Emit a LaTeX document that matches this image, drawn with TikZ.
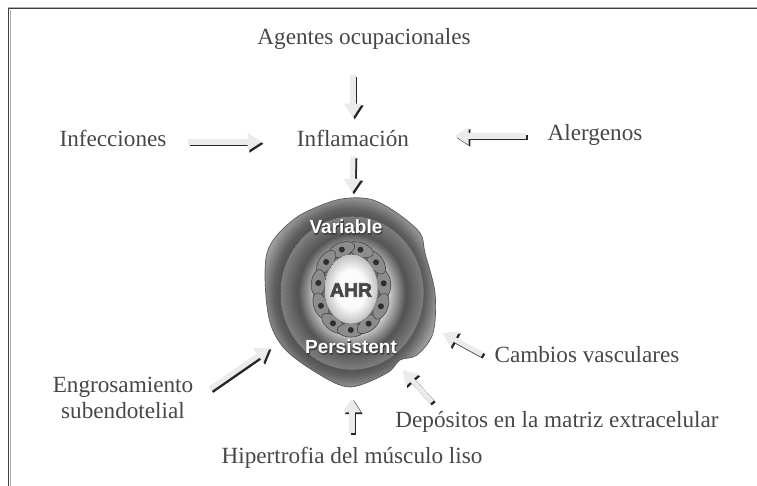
\documentclass[tikz,border=0pt]{standalone}
\usepackage{fontspec}
\setmainfont{Liberation Serif}
\setsansfont{Liberation Sans}
\newfontfamily\halofont{Liberation Sans}[BoldFeatures={FakeBold=4}]
\usetikzlibrary{arrows.meta}

\pgfdeclareradialshading{capaext}{\pgfpointorigin}{color(0bp)=(black!68); color(19bp)=(black!72); color(22bp)=(black!62); color(27bp)=(black!30)}
\pgfdeclareradialshading{capamed}{\pgfpointorigin}{color(0bp)=(black!68); color(18bp)=(black!70); color(25bp)=(black!50)}
\pgfdeclareradialshading{capaint}{\pgfpointorigin}{color(0bp)=(black!5); color(16bp)=(black!14); color(25bp)=(black!68)}
\pgfdeclareradialshading{luz}{\pgfpointorigin}{color(0bp)=(white); color(14bp)=(black!2); color(25bp)=(black!25)}

\newcommand{\flecha}[3][]{%
    \draw[flechasombra,#1] #2 -- #3;
    \draw[flechaluz,#1] #2 -- #3;}

\begin{document}
\begin{tikzpicture}[x=0.02cm, y=-0.02cm,
    etiqueta/.style={font=\fontsize{13.2}{14.5}\selectfont, text=black!72, text height=.7em, text depth=.2em},
    flechaluz/.style={line width=2.9pt, draw=black!8, -{Triangle[length=8pt,width=9.6pt,fill=black!8]}},
    flechasombra/.style={line width=2.9pt, draw=black!85, -{Triangle[length=8pt,width=9.6pt,fill=black!85]},
        transform canvas={shift={(1pt,-1pt)}}},
    rotulo/.style={font=\sffamily\bfseries\fontsize{10.8}{12}\selectfont},
    halo/.style={font=\halofont\bfseries\fontsize{10.8}{12}\selectfont}]
\useasboundingbox (0,0) rectangle (757,486);

% marco
\draw[black!30, line width=.5pt] (10,486) -- (10,10);
\draw[black!30, line width=.5pt] (8,7) -- (757,7);
\draw[black!75, line width=.7pt] (8.6,486) -- (8.6,8.6) -- (757,8.6);

% pared de la via aerea
\draw[black!65, line width=.4pt, shading=capaext] plot[smooth cycle, tension=.55] coordinates {
    (350,198) (373,200) (397,213) (420,233) (425,253) (435,293) (433,333)
    (417,355) (400,360) (387,373) (350,387) (317,373) (283,347) (268,313)
    (267,253) (293,220) (327,203)};
\draw[black!65, line width=.45pt, shading=capamed] (352,293) ellipse (72 and 77);
\draw[black!65, line width=.45pt, shading=capaint] (352,293) ellipse (54 and 60);

% epitelio
\fill[black!58] (351,289) ellipse (38 and 47);
\foreach \a in {0,32.7,...,340} {
    \draw[black!72, fill=black!45, line width=.35pt]
        ({351+33*cos(\a+8)},{289-41*sin(\a+8)}) ellipse [x radius=.27cm, y radius=.14cm,
            rotate={atan2(41*cos(\a+8),-33*sin(\a+8))}];
}
\foreach \a in {0,32.7,...,340} {
    \fill[black!82] ({351+33*cos(\a+8)},{289-41*sin(\a+8)}) circle (3);
}
\draw[black!50, line width=.3pt, shading=luz] (351,289) ellipse (27 and 35);

% rotulos del centro
\node[halo, text=black!75] (variableb) at (346.5,227.5) {Variable};
\node[rotulo, text=white] (variable) at (346,227) {Variable};
\node[halo, text=black!75] (persistentb) at (351.5,347.5) {Persistent};
\node[rotulo, text=white] (persistent) at (351,347) {Persistent};
\node[halo, text=white] (ahrb) at (351,290) {AHR};
\node[halo, text=black!72, font=\halofont\bfseries\fontsize{11}{12}\selectfont] (ahr) at (351,290) {AHR};

\node[circle, inner sep=0pt, minimum size=105.4pt] (via) at (352,292) {};

\node[etiqueta] (agentes) at (364,40) {Agentes ocupacionales};
\node[etiqueta] (inflamacion) at (353,142) {Inflamación};
\node[etiqueta] (infecciones) at (113,142) {Infecciones};
\node[etiqueta] (alergenos) at (595,136) {Alergenos};
\node[etiqueta] (cambios) at (587,358) {Cambios vasculares};
\node[etiqueta] (depositos) at (557,423) {Depósitos en la matriz extracelular};
\node[etiqueta] (hipertrofia) at (352,459) {Hipertrofia del músculo liso};
\node[etiqueta, align=center, text height=, text depth=] (engrosamiento) at (123,398) {Engrosamiento\\subendotelial};

\coordinate (colaengr) at (210,389);
\coordinate (coladepo) at (432,402);

\flecha[shorten <=12pt, shorten >=5.8pt]{(agentes.south -| inflamacion.north)}{(inflamacion.north)}
\flecha[shorten <=8.8pt, shorten >=16.5pt, yshift=1.1pt]{(infecciones.east)}{(inflamacion.west)}
\flecha[shorten <=8.5pt, shorten >=22.4pt]{(alergenos.west)}{(alergenos.west -| inflamacion.east)}
\flecha[shorten <=.2pt, shorten >=3.6pt]{(inflamacion.south)}{(via.north)}
\flecha[shorten >=3.6pt]{(colaengr)}{(via.214)}
\flecha[shorten <=6.8pt, shorten >=7.6pt]{(hipertrofia.north)}{(via.south)}
\flecha{(coladepo)}{(via.-57)}
\flecha[shorten <=4pt, shorten >=3.6pt]{(cambios.west)}{(via.-24)}

\end{tikzpicture}
\end{document}
